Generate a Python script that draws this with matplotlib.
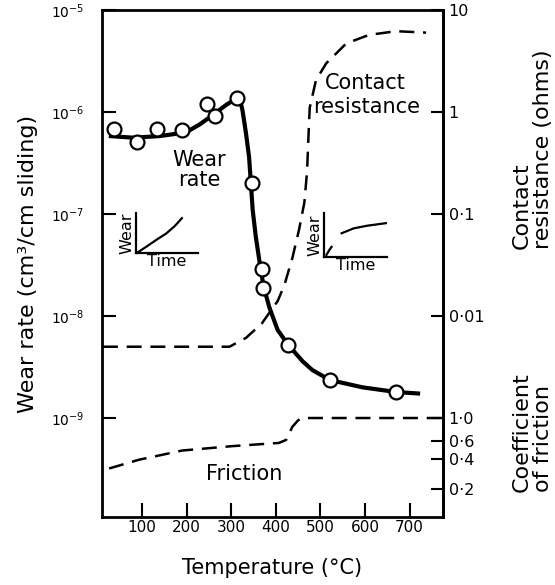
import numpy as np
import matplotlib.pyplot as plt
from matplotlib.ticker import FixedLocator, FixedFormatter, NullLocator

# measured wear rate points (open circles)
temp_pts = [37, 89, 134, 190, 246, 264, 313, 347, 369, 372, 428, 521, 669]
wear_pts = [6.8e-7, 5.1e-7, 6.8e-7, 6.6e-7, 1.2e-6, 9.1e-7, 1.37e-6,
            2.0e-7, 2.9e-8, 1.9e-8, 5.2e-9, 2.36e-9, 1.8e-9]

# drawn wear rate curve
temp_wear = [30, 80, 138, 198, 228, 258, 288, 313, 318, 325, 333, 340, 348,
             355, 363, 372, 385, 404, 428, 460, 482, 521, 594, 669, 719]
wear_curve = [5.8e-7, 5.6e-7, 5.8e-7, 6.3e-7, 7.5e-7, 9.3e-7, 1.17e-6, 1.37e-6,
              1.4e-6, 1.05e-6, 6.2e-7, 3.6e-7, 1.1e-7, 6e-8, 3.5e-8, 2.0e-8,
              1.23e-8, 7.3e-9, 5.2e-9, 3.6e-9, 2.95e-9, 2.36e-9, 2.0e-9, 1.8e-9, 1.74e-9]

# contact resistance (ohms)
temp_res = [12, 100, 200, 296, 333, 369, 385, 404, 419, 437, 452, 464, 470,
            473, 476, 490, 513, 558, 609, 670, 737]
resistance = [0.005, 0.005, 0.005, 0.005, 0.0061, 0.0085, 0.0107, 0.014, 0.02,
              0.037, 0.07, 0.13, 0.26, 0.55, 1.1, 2.05, 3.0, 4.7, 5.7, 6.2, 6.0]

# coefficient of friction
temp_fric = [26, 93, 190, 302, 407, 423, 437, 450, 459, 780]
friction = [0.32, 0.39, 0.48, 0.53, 0.57, 0.61, 0.82, 0.95, 1.0, 1.0]

# sketches of wear vs time
time_a = [0.02, 0.17, 0.33, 0.49, 0.63, 0.74]
wear_a = [0.01, 0.16, 0.33, 0.49, 0.68, 0.87]
time_b1 = [0.04, 0.085, 0.12]
wear_b1 = [0.05, 0.16, 0.23]
time_b2 = [0.28, 0.47, 0.68, 0.99]
wear_b2 = [0.54, 0.65, 0.71, 0.77]

x_ticks = [100, 200, 300, 400, 500, 600, 700]
res_ticks = [0.01, 0.1, 1, 10]
res_labels = ['0·01', '0·1', '1', '10']
fric_ticks = [0.2, 0.4, 0.6, 1.0]
fric_labels = ['0·2', '0·4', '0·6', '1·0']

fig = plt.figure(figsize=(5.55, 5.85), dpi=100)
ax = fig.add_axes([0.1838, 0.1162, 0.6144, 0.8667])

ax.plot(temp_wear, wear_curve, color='k', lw=3, zorder=3)
ax.plot(temp_pts, wear_pts, 'o', ms=10, mfc='white', mec='k', mew=1.6, zorder=4)
ax.set_yscale('log')
ax.set_xlim(10, 775)
ax.set_ylim(1.07e-10, 1e-5)
ax.set_xticks(x_ticks)
ax.yaxis.set_major_locator(FixedLocator([1e-9, 1e-8, 1e-7, 1e-6, 1e-5]))
ax.yaxis.set_minor_locator(NullLocator())
ax.tick_params(axis='x', direction='in', length=10, width=1.5, labelsize=11, pad=2)
ax.tick_params(axis='y', direction='in', length=10, width=1.5, labelsize=10, pad=13)
ax.set_xlabel('Temperature (°C)', fontsize=15, labelpad=17)
ax.set_ylabel('Wear rate (cm³/cm sliding)', fontsize=16, labelpad=9)
for s in ax.spines.values():
    s.set_linewidth(2)

# contact resistance on the right log axis
ax2 = ax.twinx()
ax2.plot(temp_res, resistance, color='k', lw=1.8, dashes=(6, 3.5))
ax2.set_yscale('log')
ax2.set_ylim(1.07e-4, 10)
ax2.yaxis.set_major_locator(FixedLocator(res_ticks))
ax2.yaxis.set_major_formatter(FixedFormatter(res_labels))
ax2.yaxis.set_minor_locator(NullLocator())
ax2.tick_params(axis='y', direction='in', length=9, width=1.5, labelsize=11.5, pad=4)
for s in ax2.spines.values():
    s.set_visible(False)
ax2.spines['right'].set_visible(True)
ax2.spines['right'].set_linewidth(2)

# friction shares the same decades further down
ax3 = ax.twinx()
ax3.plot(temp_fric, friction, color='k', lw=1.8, dashes=(6, 3.5))
ax3.set_yscale('log')
ax3.set_ylim(0.107, 1e4)
ax3.yaxis.set_major_locator(FixedLocator(fric_ticks))
ax3.yaxis.set_major_formatter(FixedFormatter(fric_labels))
ax3.yaxis.set_minor_locator(NullLocator())
ax3.tick_params(axis='y', direction='in', length=9, width=1.5, labelsize=11.5, pad=4)
for s in ax3.spines.values():
    s.set_visible(False)
ax3.set_xlim(10, 775)
ax2.set_xlim(10, 775)

ax.text(0.284, 0.684, 'Wear\nrate', transform=ax.transAxes, fontsize=15,
        ha='center', va='center', linespacing=1.0)
ax.text(0.654, 0.856, 'Contact', transform=ax.transAxes, fontsize=15,
        ha='left', va='center')
ax.text(0.619, 0.809, 'resistance', transform=ax.transAxes, fontsize=15,
        ha='left', va='center')
ax.text(0.416, 0.085, 'Friction', transform=ax.transAxes, fontsize=15,
        ha='center', va='center')

fig.text(0.959, 0.574, 'Contact\nresistance (ohms)', rotation=90, fontsize=16,
         ha='center', va='bottom', multialignment='left', linespacing=1.1)
fig.text(0.959, 0.159, 'Coefficient\nof friction', rotation=90, fontsize=16,
         ha='center', va='bottom', multialignment='left', linespacing=1.1)

# little wear-time sketches
ins1 = fig.add_axes([0.245, 0.5675, 0.1117, 0.0684])
ins1.plot(time_a, wear_a, color='k', lw=1.6)
ins2 = fig.add_axes([0.5838, 0.5607, 0.1135, 0.0752])
ins2.plot(time_b1, wear_b1, color='k', lw=1.6)
ins2.plot(time_b2, wear_b2, color='k', lw=1.6)
for ins in (ins1, ins2):
    ins.set_xlim(0, 1)
    ins.set_ylim(0, 1)
    ins.set_facecolor('none')
    ins.set_xticks([])
    ins.set_yticks([])
    ins.spines['top'].set_visible(False)
    ins.spines['right'].set_visible(False)
    ins.spines['left'].set_linewidth(1.6)
    ins.spines['bottom'].set_linewidth(1.6)
    ins.set_xlabel('Time', fontsize=11.5, labelpad=1)
    ins.set_ylabel('Wear', fontsize=11.5, labelpad=1)

fig.savefig('out.png', dpi=100)
